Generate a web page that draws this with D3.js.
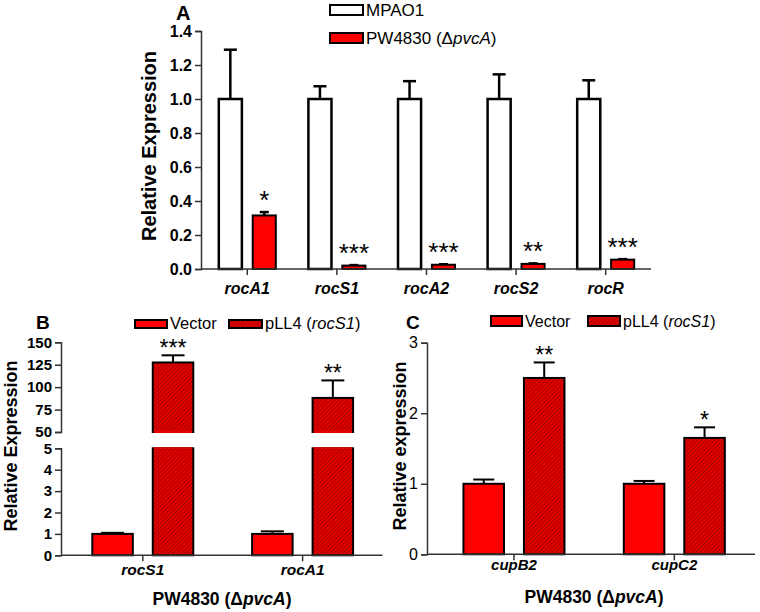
<!DOCTYPE html>
<html>
<head>
  <meta charset="UTF-8">
  <style>
    body { margin: 0; background: #fff; }
    svg { font-family: "Liberation Sans", Arial, sans-serif; }
  </style>
</head>
<body>
<svg></svg>
<script src="https://d3js.org/d3.v7.min.js"></script>

<script>

let width = 760, height = 612;

// Panel A data
let genesA = ["rocA1", "rocS1", "rocA2", "rocS2", "rocR"];
let mpao1 = [1, 1, 1, 1, 1];
let mpao1Err = [0.29, 0.075, 0.105, 0.145, 0.11];
let pw4830 = [0.315, 0.02, 0.025, 0.03, 0.055];
let pw4830Err = [0.02, 0.003, 0.003, 0.003, 0.003];
let sigA = ["*", "***", "***", "**", "***"];
let ticksA = [0, 0.2, 0.4, 0.6, 0.8, 1.0, 1.2, 1.4];

// Panel B data
let genesB = ["rocS1", "rocA1"];
let vectorB = [1, 1];
let vectorBErr = [0.05, 0.12];
let pll4B = [127.5, 88];
let pll4BErr = [8, 19.5];
let sigB = ["***", "**"];
let ticksBLow = [0, 1, 2, 3, 4, 5];
let ticksBHigh = [50, 75, 100, 125, 150];

// Panel C data
let genesC = ["cupB2", "cupC2"];
let vectorC = [1, 1];
let vectorCErr = [0.06, 0.04];
let pll4C = [2.5, 1.65];
let pll4CErr = [0.22, 0.15];
let sigC = ["**", "*"];
let ticksC = [0, 1, 2, 3];

let svg = d3.select("svg")
    .attr("width", width)
    .attr("height", height);

// hatch pattern for pLL4 bars
let pat = svg.append("defs").append("pattern")
    .attr("id", "hatch")
    .attr("patternUnits", "userSpaceOnUse")
    .attr("width", 3)
    .attr("height", 3)
    .attr("patternTransform", "rotate(45)");
pat.append("rect").attr("width", 3).attr("height", 3).attr("fill", "#e60000");
pat.append("line").attr("x1", 0).attr("y1", 0).attr("x2", 0).attr("y2", 3)
    .attr("stroke", "#7a0000").attr("stroke-width", 1.3);

let axisColor = "#333";

function yAxisLeft(scale, x, ticks, fmt, font, weight) {
  let g = svg.append("g")
      .attr("transform", "translate(" + x + ",0)")
      .call(d3.axisLeft(scale).tickValues(ticks).tickFormat(fmt).tickSizeOuter(0).tickSize(6).tickPadding(3));
  g.select(".domain").attr("stroke", axisColor).attr("stroke-width", 1.5);
  g.selectAll(".tick line").attr("stroke", axisColor).attr("stroke-width", 1.5);
  g.selectAll(".tick text").attr("fill", "#000").style("font-size", font + "px")
      .style("font-weight", weight).style("font-family", "Liberation Sans, Arial, sans-serif");
  return g;
}

function xAxisBottom(scale, y, x0, x1) {
  let g = svg.append("g")
      .attr("transform", "translate(0," + y + ")")
      .call(d3.axisBottom(scale).tickSizeOuter(0).tickSize(6).tickPadding(6));
  g.select(".domain").remove();
  g.append("line").attr("x1", x0).attr("x2", x1).attr("y1", 0).attr("y2", 0)
      .attr("stroke", axisColor).attr("stroke-width", 1.5);
  g.selectAll(".tick line").attr("stroke", axisColor).attr("stroke-width", 1.5);
  g.selectAll(".tick text").remove();
  return g;
}

function errBar(x, yTop, yBase, cap, w) {
  svg.append("line").attr("x1", x).attr("x2", x).attr("y1", yBase).attr("y2", yTop)
      .attr("stroke", "#000").attr("stroke-width", w);
  svg.append("line").attr("x1", x - cap / 2).attr("x2", x + cap / 2).attr("y1", yTop).attr("y2", yTop)
      .attr("stroke", "#000").attr("stroke-width", w);
}

function label(x, y, txt, size, weight, style, anchor) {
  return svg.append("text").attr("x", x).attr("y", y).text(txt)
      .style("font-size", size + "px").style("font-weight", weight || "normal")
      .style("font-style", style || "normal").attr("text-anchor", anchor || "middle");
}

function rotLabel(x, y, txt, size) {
  svg.append("text").attr("transform", "translate(" + x + "," + y + ") rotate(-90)")
      .attr("text-anchor", "middle").style("font-size", size + "px").style("font-weight", "bold")
      .text(txt);
}

function legendItem(x, y, w, h, fill, parts, size) {
  svg.append("rect").attr("x", x).attr("y", y).attr("width", w).attr("height", h)
      .attr("fill", fill).attr("stroke", "#000").attr("stroke-width", 2);
  let t = svg.append("text").attr("x", x + w + 3).attr("y", y + h + 1).style("font-size", size + "px");
  parts.forEach(p => t.append("tspan").style("font-style", p[1] ? "italic" : "normal").text(p[0]));
}

// ---------- Panel A ----------
let xA = d3.scaleBand().domain(genesA).range([202.5, 650.5]);
let subA = d3.scaleBand().domain(["MPAO1", "PW"]).range([-28.5, 28.5]).paddingInner(0.32);
let yA = d3.scaleLinear().domain([0, 1.4]).range([269, 31]);

genesA.forEach((g, i) => {
  let cx = xA(g) + xA.bandwidth() / 2;
  let bw = subA.bandwidth();
  let x1 = cx + subA("MPAO1"), x2 = cx + subA("PW");
  errBar(x1 + bw / 2, yA(mpao1[i] + mpao1Err[i]), yA(mpao1[i]), 13, 2.5);
  errBar(x2 + bw / 2, yA(pw4830[i] + pw4830Err[i]), yA(pw4830[i]), 9, 2.5);
  svg.append("rect").attr("x", x1).attr("y", yA(mpao1[i])).attr("width", bw)
      .attr("height", yA(0) - yA(mpao1[i])).attr("fill", "#fff").attr("stroke", "#000").attr("stroke-width", 2.5);
  svg.append("rect").attr("x", x2).attr("y", yA(pw4830[i])).attr("width", bw)
      .attr("height", yA(0) - yA(pw4830[i])).attr("fill", "#ff0000").attr("stroke", "#000").attr("stroke-width", 2);
  label(x2 + bw / 2, yA(pw4830[i] + pw4830Err[i]) - 3, sigA[i], 26);
  label(cx, 294, g, 16, "bold", "italic");
});

yAxisLeft(yA, 201, ticksA, d3.format(".1f"), 16, "bold");
xAxisBottom(xA, 269, 201, 651);
rotLabel(156, 146, "Relative Expression", 20);
label(176, 20, "A", 20, "bold", "normal", "start");

legendItem(330, 5, 33, 10, "#fff", [["MPAO1", false]], 17);
legendItem(330, 33, 33, 10, "#ff0000", [["PW4830 (\u0394", false], ["pvcA", true], [")", false]], 17);

// ---------- Panel B (broken y axis) ----------
let xB = d3.scaleBand().domain(genesB).range([62.9, 382.5]);
let subB = d3.scaleBand().domain(["Vector", "pLL4"]).range([-50.5, 50.5]).paddingInner(0.33);
let yBLow = d3.scaleLinear().domain([0, 5]).range([555.3, 448.3]);
let yBHigh = d3.scaleLinear().domain([50, 150]).range([432, 342.3]);

genesB.forEach((g, i) => {
  let cx = xB(g) + xB.bandwidth() / 2;
  let bw = subB.bandwidth();
  let x1 = cx + subB("Vector"), x2 = cx + subB("pLL4");
  errBar(x1 + bw / 2, yBLow(vectorB[i] + vectorBErr[i]), yBLow(vectorB[i]), 23, 2);
  errBar(x2 + bw / 2, yBHigh(pll4B[i] + pll4BErr[i]), yBHigh(pll4B[i]), 23, 2);
  svg.append("rect").attr("x", x1).attr("y", yBLow(vectorB[i])).attr("width", bw)
      .attr("height", yBLow(0) - yBLow(vectorB[i])).attr("fill", "#ff0000").attr("stroke", "#000").attr("stroke-width", 2);
  // lower part of the broken bar
  svg.append("rect").attr("x", x2).attr("y", yBLow(5)).attr("width", bw)
      .attr("height", yBLow(0) - yBLow(5)).attr("fill", "url(#hatch)").attr("stroke", "#000").attr("stroke-width", 2);
  // upper part
  svg.append("rect").attr("x", x2).attr("y", yBHigh(pll4B[i])).attr("width", bw)
      .attr("height", yBHigh(50) - yBHigh(pll4B[i])).attr("fill", "url(#hatch)").attr("stroke", "#000").attr("stroke-width", 2);
  // open the border at the break
  svg.append("line").attr("x1", x2 + 1).attr("x2", x2 + bw - 1).attr("y1", yBLow(5)).attr("y2", yBLow(5))
      .attr("stroke", "#e60000").attr("stroke-width", 2.2);
  svg.append("line").attr("x1", x2 + 1).attr("x2", x2 + bw - 1).attr("y1", yBHigh(50)).attr("y2", yBHigh(50))
      .attr("stroke", "#e60000").attr("stroke-width", 2.2);
  label(x2 + bw / 2, yBHigh(pll4B[i] + pll4BErr[i]) + 1, sigB[i], 23);
  label(cx, 575, g, 15.5, "bold", "italic");
});

yAxisLeft(yBLow, 61, ticksBLow, d3.format("d"), 15, "bold");
yAxisLeft(yBHigh, 61, ticksBHigh, d3.format("d"), 15, "bold");
xAxisBottom(xB, 555.3, 61, 382.5);
rotLabel(17, 446, "Relative Expression", 18);
label(36, 329, "B", 19, "bold", "normal", "start");
let xtB = label(222, 605, "", 17.5, "bold");
xtB.append("tspan").text("PW4830 (\u0394");
xtB.append("tspan").style("font-style", "italic").text("pvcA");
xtB.append("tspan").text(")");

legendItem(135, 320, 32, 8, "#ff0000", [["Vector", false]], 16.5);
legendItem(229, 320, 33, 8, "url(#hatch)", [["pLL4 (", false], ["rocS1", true], [")", false]], 16.5);

// ---------- Panel C ----------
let xC = d3.scaleBand().domain(genesC).range([433.8, 754.5]);
let subC = d3.scaleBand().domain(["Vector", "pLL4"]).range([-50.5, 50.5]).paddingInner(0.33);
let yC = d3.scaleLinear().domain([0, 3]).range([554.3, 342.7]);

genesC.forEach((g, i) => {
  let cx = xC(g) + xC.bandwidth() / 2;
  let bw = subC.bandwidth();
  let x1 = cx + subC("Vector"), x2 = cx + subC("pLL4");
  errBar(x1 + bw / 2, yC(vectorC[i] + vectorCErr[i]), yC(vectorC[i]), 21, 2);
  errBar(x2 + bw / 2, yC(pll4C[i] + pll4CErr[i]), yC(pll4C[i]), 21, 2);
  svg.append("rect").attr("x", x1).attr("y", yC(vectorC[i])).attr("width", bw)
      .attr("height", yC(0) - yC(vectorC[i])).attr("fill", "#ff0000").attr("stroke", "#000").attr("stroke-width", 2);
  svg.append("rect").attr("x", x2).attr("y", yC(pll4C[i])).attr("width", bw)
      .attr("height", yC(0) - yC(pll4C[i])).attr("fill", "url(#hatch)").attr("stroke", "#000").attr("stroke-width", 2);
  label(x2 + bw / 2, yC(pll4C[i] + pll4CErr[i]) + 1, sigC[i], 23);
  label(cx, 570, g, 15, "bold", "italic");
});

yAxisLeft(yC, 427, ticksC, d3.format("d"), 16, "normal");
xAxisBottom(xC, 554.3, 427, 755);
rotLabel(406, 446, "Relative expression", 18);
label(406, 329, "C", 19, "bold", "normal", "start");
let xtC = label(594, 603, "", 17.5, "bold");
xtC.append("tspan").text("PW4830 (\u0394");
xtC.append("tspan").style("font-style", "italic").text("pvcA");
xtC.append("tspan").text(")");

legendItem(491, 316, 31, 10, "#ff0000", [["Vector", false]], 16);
legendItem(588, 316, 32, 10, "url(#hatch)", [["pLL4 (", false], ["rocS1", true], [")", false]], 16);

</script>

</body>
</html>
